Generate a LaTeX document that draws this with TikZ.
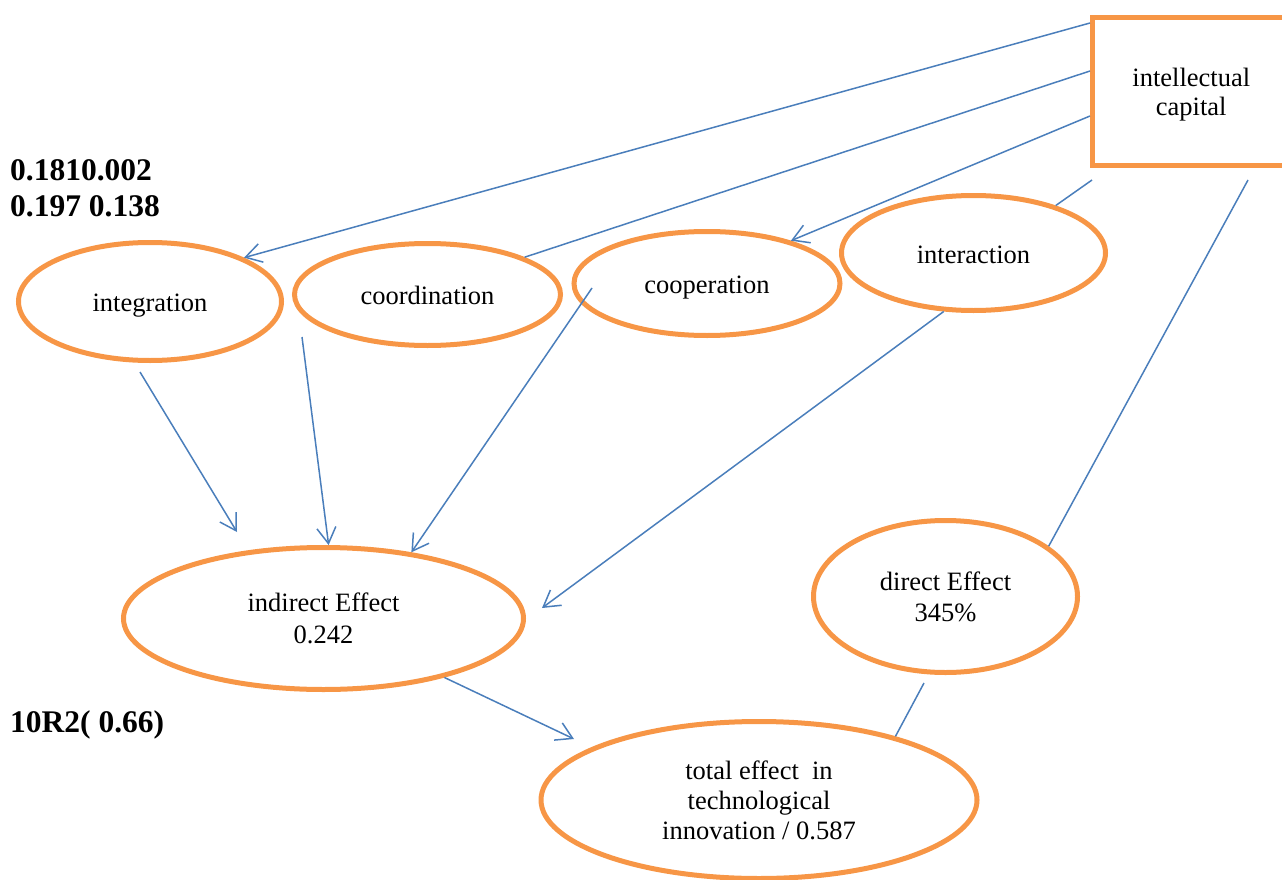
\documentclass[tikz,border=0pt]{standalone}
\usepackage{fontspec}
\setmainfont{Liberation Serif}
\usetikzlibrary{shapes.geometric,arrows.meta}
\definecolor{ringorange}{HTML}{F79646}
\definecolor{linkblue}{HTML}{4A7EBB}
\begin{document}
\begin{tikzpicture}[x=1pt,y=-1pt,
  ell/.style={ellipse,draw=ringorange,line width=5pt,inner sep=0pt,align=center,
    font=\fontsize{26.5}{31}\selectfont},
  oneline/.style={ell,text height=21pt,text depth=1pt},
  icbox/.style={rectangle,draw=ringorange,line width=5pt,inner sep=0pt,align=center,
    font=\fontsize{26.5}{29}\selectfont},
  link/.style={draw=linkblue,line width=1.5pt},
  arr/.style={link,-{Straight Barb[length=16pt,width=19pt]}},
  num/.style={anchor=base west,inner sep=0pt,font=\fontsize{31.5}{36}\selectfont\bfseries}]
\useasboundingbox (0,0) rectangle (1282,880);
\clip (0,0) rectangle (1282,880);
% nodes
\node[icbox,minimum width=197.5pt,minimum height=148pt] (ic) at (1191.25,91.5) {\rule{0pt}{23.7pt}intellectual\\capital};
\node[oneline,minimum width=263pt,minimum height=118pt] (integ) at (150,301.5) {integration};
\node[oneline,minimum width=266pt,minimum height=102pt] (coord) at (427.5,294.5) {coordination};
\node[oneline,minimum width=266pt,minimum height=104pt] (coop) at (707,283.5) {cooperation};
\node[oneline,minimum width=264pt,minimum height=115pt] (inter) at (973.5,253) {interaction};
\node[ell,minimum width=400pt,minimum height=142pt,font=\fontsize{26.5}{32}\selectfont] (indir) at (323.5,618.5) {indirect Effect\\0.242};
\node[ell,minimum width=264pt,minimum height=152pt] (dir) at (945.5,596.5) {direct Effect\\345\%};
\node[ell,minimum width=436pt,minimum height=157pt,font=\fontsize{26.5}{30}\selectfont] (tot) at (759,800) {\rule{0pt}{20pt}total effect~ in\\technological\\innovation / 0.587};
% labels
\node[num] (n1) at (10,180) {0.1810.002};
\node[num] (n2) at (10,216) {0.197 0.138};
\node[num] (n3) at (10,732) {10R2( 0.66)};
% free ends
\coordinate (f4) at (1092,180);
\coordinate (f5) at (1248,180);
\coordinate (f6a) at (140,372);
\coordinate (f6b) at (237,532);
\coordinate (f7) at (302,337);
\coordinate (f8) at (592,288);
\coordinate (f9) at (542,608);
\coordinate (f10) at (574,739);
\coordinate (f11) at (924,683);
% connectors
\draw[arr] ([yshift=68.5pt]ic.west) -- (integ.25.8);
\draw[link] ([yshift=20.5pt]ic.west) -- (coord.21);
\draw[arr] ([yshift=-24.5pt]ic.west) -- (coop.27.4);
\draw[link] (f4) -- (inter.30.9);
\draw[link] (f5) -- (dir.26.9);
\draw[arr] (f6a) -- (f6b);
\draw[arr] (f7) -- (indir.86.6);
\draw[arr] (f8) -- (indir.37);
\draw[arr] (inter.243.4) -- (f9);
\draw[arr] (indir.-26.8) -- (f10);
\draw[link] (f11) -- (tot.25.7);
\end{tikzpicture}
\end{document}
